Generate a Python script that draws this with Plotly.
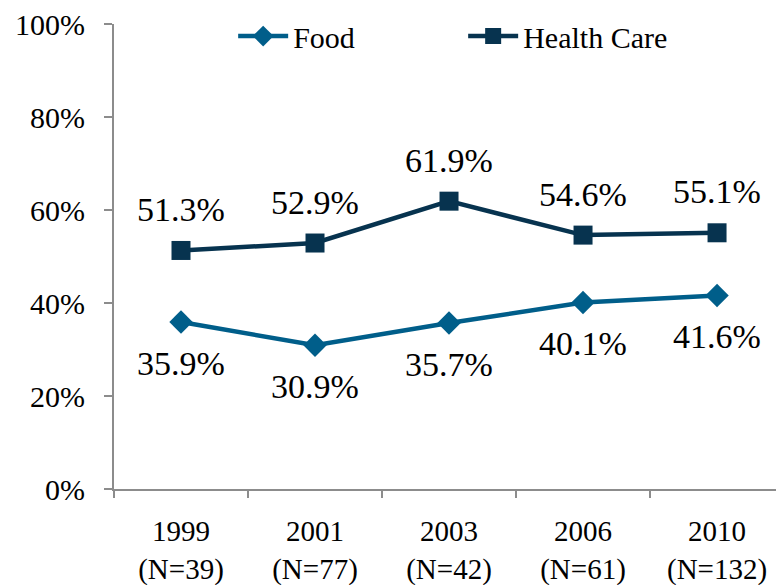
import plotly.graph_objects as go

years = ["1999<br>(N=39)", "2001<br>(N=77)", "2003<br>(N=42)", "2006<br>(N=61)", "2010<br>(N=132)"]
food = [35.9, 30.9, 35.7, 40.1, 41.6]
health_care = [51.3, 52.9, 61.9, 54.6, 55.1]
y_ticks = [0, 20, 40, 60, 80, 100]
y_tick_labels = ["0%", "20%", "40%", "60%", "80%", "100%"]

FONT = "Liberation Serif, Times New Roman, serif"
food_color = "#005E8A"
health_color = "#07334F"

fig = go.Figure()

fig.add_trace(go.Scatter(
    x=years, y=food, name="Food", mode="lines+markers",
    line=dict(color=food_color, width=4.5),
    marker=dict(symbol="diamond", size=18, color=food_color),
))
fig.add_trace(go.Scatter(
    x=years, y=health_care, name="Health Care", mode="lines+markers",
    line=dict(color=health_color, width=4.5),
    marker=dict(symbol="square", size=19, color=health_color),
))

# value labels: food below, health care above
for x, v in zip(years, food):
    fig.add_annotation(x=x, y=v, text=f"{v:.1f}%", showarrow=False, yshift=-41,
                       font=dict(family=FONT, size=34, color="black"))
for x, v in zip(years, health_care):
    fig.add_annotation(x=x, y=v, text=f"{v:.1f}%", showarrow=False, yshift=41,
                       font=dict(family=FONT, size=34, color="black"))

fig.update_layout(
    width=776, height=585,
    margin=dict(l=114, r=0, t=24, b=96, autoexpand=False),
    paper_bgcolor="white", plot_bgcolor="white",
    font=dict(family=FONT, size=30, color="black"),
    legend=dict(orientation="h", x=0.18, y=1.03, xanchor="left", yanchor="top",
                font=dict(family=FONT, size=30, color="black"), bgcolor="rgba(0,0,0,0)",
                itemwidth=50, entrywidth=165),
)
fig.update_xaxes(
    range=[-0.5, 4.44], showgrid=False, showline=True, linecolor="#8C8C8C", linewidth=2,
    ticks="outside", ticklen=7, tickcolor="#8C8C8C", tickwidth=2,
    tickson="boundaries", ticklabelstandoff=15,
    tickfont=dict(family=FONT, size=29, color="black"),
)
fig.update_yaxes(
    range=[0, 100], tickmode="array", tickvals=y_ticks, ticktext=y_tick_labels,
    showgrid=False, showline=True, linecolor="#8C8C8C", linewidth=2, zeroline=False,
    ticks="outside", ticklen=8, tickcolor="#8C8C8C", tickwidth=2,
    ticklabelstandoff=13, tickfont=dict(family=FONT, size=30, color="black"),
)

fig.write_html("out.html", config={"displayModeBar": False},
               post_script="document.body.style.margin='0';")
